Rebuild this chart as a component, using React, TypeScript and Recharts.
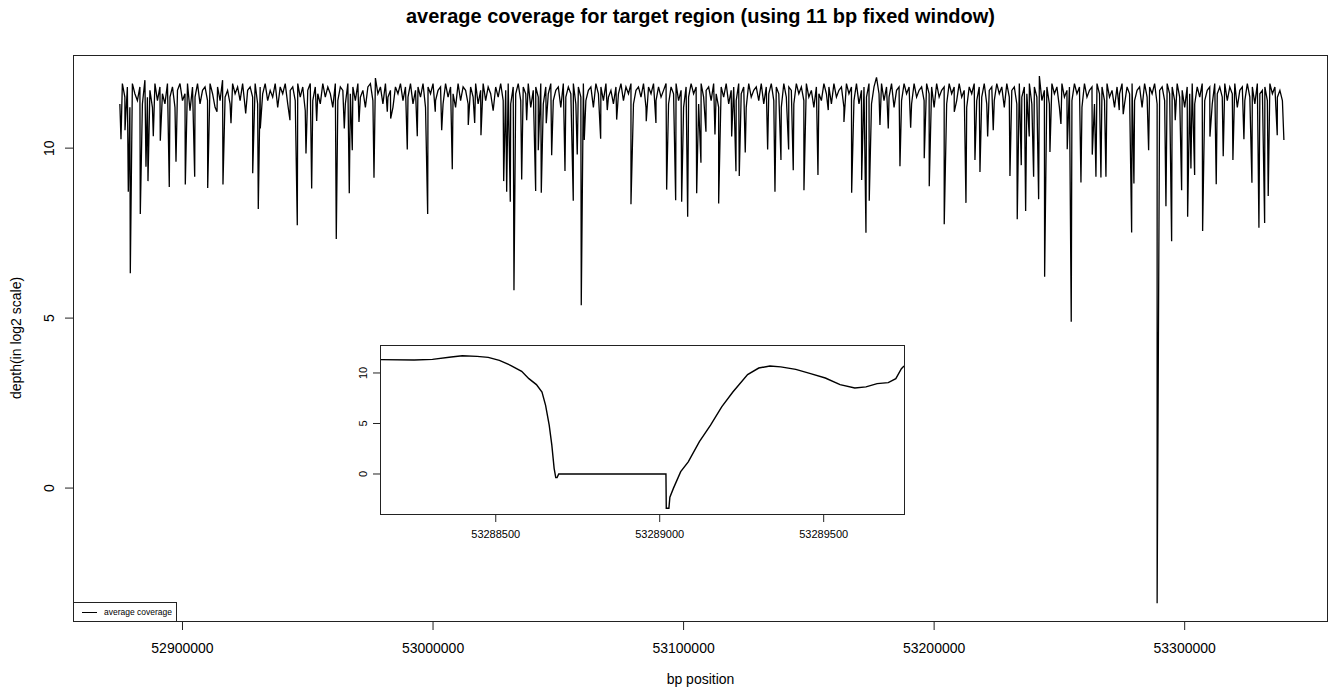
import { LineChart, Line, XAxis, YAxis, Legend } from "recharts";

const FONT = '"Liberation Sans", Arial, Helvetica, sans-serif';

// main series: depth on a 1 kb grid (the dense band), plus the dips
const START_BP = 52875000;
const STEP_BP = 1000;
const baselineDepth = [
  11.3, 11.9, 11.5, 11.8, 11.2, 11.9, 11.6, 11.4, 11.8, 11.3, 12.0, 11.5, 11.7, 11.2, 11.9, 11.4, 11.8, 11.6, 11.3, 11.9,
  11.5, 11.8, 11.2, 11.7, 11.9, 11.4, 11.6, 11.9, 11.1, 11.8, 11.5, 11.9, 11.3, 11.7, 11.8, 11.4, 11.9, 11.6, 11.2, 11.8,
  11.4, 12.0, 11.5, 11.7, 11.3, 11.9, 11.6, 11.8, 11.4, 11.9, 11.2, 11.7, 11.8, 11.5, 11.9, 11.3, 11.8, 11.6, 11.9, 11.4,
  11.7, 11.5, 11.9, 11.2, 11.8, 11.6, 11.9, 11.3, 11.7, 11.8, 11.4, 11.9, 11.5, 11.8, 11.1, 11.7, 11.9, 11.4, 11.8, 11.6,
  11.3, 11.9, 11.5, 11.8, 11.6, 11.2, 11.9, 11.4, 11.8, 11.7, 11.3, 11.9, 11.6, 11.8, 11.4, 11.9, 11.5, 11.7, 11.2, 11.8,
  11.9, 11.4, 12.06, 11.6, 11.8, 11.3, 11.9, 11.5, 11.7, 11.2, 11.8, 11.6, 11.9, 11.4, 11.8, 11.5, 11.9, 11.3, 11.7, 11.8,
  11.5, 11.9, 11.2, 11.8, 11.6, 11.9, 11.4, 11.7, 11.8, 11.3, 11.9, 11.5, 11.8, 11.6, 11.2, 11.9, 11.4, 11.8, 11.7, 11.3,
  11.8, 11.5, 11.9, 11.3, 11.7, 11.9, 11.4, 11.8, 11.6, 11.1, 11.8, 11.5, 11.9, 11.4, 11.7, 11.9, 11.3, 11.8, 11.6, 11.9,
  11.4, 11.8, 11.6, 11.9, 11.2, 11.7, 11.8, 11.5, 11.9, 11.3, 11.8, 11.6, 11.9, 11.4, 11.7, 11.8, 11.2, 11.9, 11.5, 11.8,
  11.6, 11.9, 11.3, 11.8, 11.5, 11.9, 11.4, 11.7, 11.8, 11.2, 11.9, 11.6, 11.8, 11.4, 11.9, 11.5, 11.7, 11.3, 11.8, 11.6,
  11.9, 11.4, 11.8, 11.6, 11.9, 11.3, 11.7, 11.8, 11.5, 11.9, 11.2, 11.8, 11.6, 11.9, 11.4, 11.8, 11.5, 11.7, 11.9, 11.3,
  11.8, 11.6, 11.9, 11.4, 11.7, 11.2, 11.8, 11.5, 11.9, 11.6, 11.8, 11.3, 11.9, 11.5, 11.7, 11.8, 11.4, 11.9, 11.6, 11.2,
  11.8, 11.5, 11.9, 11.3, 11.7, 11.8, 11.4, 11.9, 11.6, 11.8, 11.2, 11.9, 11.5, 11.7, 11.8, 11.4, 11.9, 11.3, 11.8, 11.6,
  11.9, 11.4, 11.8, 11.6, 11.2, 11.9, 11.5, 11.8, 11.7, 11.3, 11.9, 11.6, 11.8, 11.4, 11.9, 11.5, 11.7, 11.2, 11.8, 11.6,
  11.4, 11.9, 11.6, 11.8, 11.3, 11.9, 11.5, 11.7, 11.8, 11.2, 11.9, 11.6, 11.8, 11.4, 11.9, 11.3, 11.7, 11.8, 11.5, 11.9,
  11.3, 11.8, 12.08, 11.6, 11.9, 11.4, 11.8, 11.5, 11.9, 11.2, 11.7, 11.8, 11.4, 11.9, 11.6, 11.8, 11.3, 11.9, 11.5, 11.7,
  11.8, 11.4, 11.9, 11.6, 11.8, 11.2, 11.9, 11.5, 11.7, 11.8, 11.3, 11.9, 11.6, 11.8, 11.4, 11.9, 11.5, 11.7, 11.2, 11.8,
  11.6, 11.9, 11.4, 11.8, 11.5, 11.9, 11.3, 11.7, 11.8, 11.4, 11.9, 11.6, 11.8, 11.2, 11.9, 11.5, 11.7, 11.8, 11.3, 11.9,
  11.5, 11.8, 11.6, 11.9, 11.3, 11.8, 11.5, 12.12, 11.4, 11.7, 11.8, 11.3, 11.9, 11.6, 11.8, 11.2, 11.9, 11.5, 11.7, 11.8,
  11.4, 11.9, 11.6, 11.8, 11.2, 11.9, 11.5, 11.7, 11.8, 11.3, 11.9, 11.6, 11.8, 11.4, 11.9, 11.5, 11.7, 11.2, 11.8, 11.6,
  11.9, 11.3, 11.8, 11.6, 11.9, 11.4, 11.7, 11.8, 11.2, 11.9, 11.5, 11.8, 11.6, 11.9, 11.3, 11.7, 11.8, 11.4, 11.9, 11.6,
  11.8, 11.4, 11.9, 11.5, 11.7, 11.2, 11.8, 11.6, 11.9, 11.3, 11.8, 11.5, 11.9, 11.4, 11.7, 11.8, 11.3, 11.9, 11.6, 11.8,
  11.5, 11.9, 11.4, 11.8, 11.6, 11.9, 11.2, 11.7, 11.8, 11.4, 11.9, 11.5, 11.8, 11.3, 11.9, 11.6, 11.7, 11.8, 11.4, 11.9,
  11.6, 11.8, 11.5, 11.7, 11.4,
];

const dips: [number, number][] = [
  [52875455, 10.26], [52877050, 10.53], [52878370, 8.72], [52879170, 6.32], [52883160, 8.06],
  [52885430, 9.45], [52886230, 9.03], [52888350, 10.35], [52891140, 10.22], [52894730, 8.86],
  [52897410, 9.6], [52901120, 8.93], [52904870, 9.16], [52910060, 8.83], [52913770, 11.07],
  [52916160, 8.93], [52919360, 10.73], [52925220, 11.02], [52928020, 9.26], [52930250, 8.21],
  [52931050, 10.58], [52942900, 10.82], [52945820, 7.73], [52949290, 9.84], [52951560, 8.81],
  [52953560, 10.8], [52961380, 7.33], [52964580, 10.58], [52966570, 8.67], [52967770, 9.94],
  [52970440, 10.77], [52976430, 9.13], [52981740, 11.07], [52983090, 10.87], [52989720, 9.96],
  [52993710, 10.35], [52997860, 8.06], [53000890, 11.07], [53003450, 10.53], [53007680, 9.38],
  [53014060, 10.68], [53016620, 10.74], [53019130, 10.38], [53028190, 9.03], [53029390, 8.72],
  [53030830, 8.42], [53032300, 5.82], [53035380, 9.08], [53037370, 10.82], [53040960, 8.74],
  [53042000, 9.94], [53043200, 8.69], [53045190, 10.73], [53047350, 9.79], [53052660, 9.33],
  [53055970, 8.45], [53057560, 9.81], [53059160, 5.38], [53060360, 10.24], [53066900, 10.28],
  [53069540, 11.12], [53073290, 10.84], [53079000, 8.35], [53085100, 10.79], [53088970, 10.74],
  [53093240, 8.78], [53096840, 8.47], [53099230, 8.42], [53101630, 7.98], [53105220, 8.67],
  [53106930, 9.57], [53108930, 10.48], [53112520, 10.4], [53114000, 8.37], [53119190, 10.34],
  [53120900, 9.32], [53122220, 9.18], [53124610, 9.87], [53133550, 9.96], [53136470, 8.72],
  [53138860, 9.65], [53141930, 9.96], [53143770, 9.35], [53148040, 8.76], [53153630, 9.21],
  [53157740, 11.12], [53164000, 10.77], [53167080, 8.69], [53171070, 9.06], [53172790, 7.51],
  [53174100, 8.45], [53178370, 10.68], [53181690, 10.58], [53186360, 9.47], [53190630, 10.6],
  [53196050, 9.7], [53198050, 8.88], [53204030, 7.76], [53208030, 11.07], [53212700, 8.39],
  [53216290, 9.65], [53218290, 9.3], [53221360, 10.34], [53223590, 10.53], [53230260, 9.18],
  [53233170, 7.91], [53234770, 9.5], [53236520, 8.15], [53237960, 10.34], [53239710, 9.16],
  [53241710, 8.5], [53244100, 6.22], [53246220, 9.89], [53250610, 10.71], [53253120, 9.97],
  [53254720, 4.89], [53258600, 8.99], [53263110, 9.81], [53264580, 9.16], [53266570, 9.14],
  [53268570, 9.16], [53273880, 11.12], [53275470, 11.0], [53278830, 7.52], [53279740, 8.96],
  [53285610, 9.94], [53289000, -3.39], [53292520, 8.29], [53294790, 7.26], [53296230, 10.82],
  [53298780, 8.76], [53301180, 7.98], [53302490, 9.4], [53303970, 9.21], [53307160, 7.56],
  [53310080, 10.34], [53312590, 8.94], [53315380, 9.76], [53319250, 9.65], [53323640, 10.26],
  [53326840, 8.98], [53329630, 7.66], [53331910, 7.8], [53333340, 8.59], [53336940, 10.38],
  [53339600, 10.24],
];

// inset: zoom on the dropout around 53289000
const insetPositions = [
  53288147, 53288251, 53288307, 53288364, 53288398, 53288443, 53288477, 53288511, 53288545, 53288579,
  53288601, 53288624, 53288641, 53288652, 53288663, 53288671, 53288678, 53288683, 53288687, 53288692,
  53289019, 53289020, 53289028, 53289031, 53289042, 53289064, 53289087, 53289121, 53289155, 53289189,
  53289223, 53289268, 53289302, 53289336, 53289369, 53289415, 53289460, 53289505, 53289550, 53289595,
  53289629, 53289663, 53289697, 53289720, 53289737, 53289745,
];
const insetDepths = [
  11.32, 11.28, 11.35, 11.58, 11.71, 11.64, 11.55, 11.25, 10.76, 10.16,
  9.44, 8.85, 8.1, 6.8, 4.83, 2.86, 0.56, -0.36, -0.36, 0,
  0, -3.39, -3.39, -2.3, -1.4, 0.23, 1.2, 3.2, 4.84, 6.64,
  8.12, 9.84, 10.49, 10.69, 10.6, 10.36, 9.93, 9.5, 8.85, 8.52,
  8.62, 8.95, 9.05, 9.44, 10.43, 10.69,
];

const xTicks = [52900000, 53000000, 53100000, 53200000, 53300000];
const yTicks = [0, 5, 10];
const insetXTicks = [53288500, 53289000, 53289500];
const insetYTicks = [0, 5, 10];

const mainData = [
  ...baselineDepth.map((depth, i) => ({ bp: START_BP + i * STEP_BP, depth })),
  ...dips.map(([bp, depth]) => ({ bp, depth })),
].sort((a, b) => a.bp - b.bp);

const insetData = insetPositions.map((bp, i) => ({ bp, depth: insetDepths[i] }));

const makeXTick = (fontSize: number, dy: number) => (props: any) => {
  const { x, y, payload } = props;
  return (
    <text x={x} y={y + dy} textAnchor="middle" fontSize={fontSize} fontFamily={FONT} fill="#000">
      {payload.value}
    </text>
  );
};

const makeYTick = (fontSize: number, dx: number) => (props: any) => {
  const { x, y, payload } = props;
  const tx = x - dx;
  return (
    <text
      x={tx}
      y={y}
      transform={`rotate(-90, ${tx}, ${y})`}
      textAnchor="middle"
      fontSize={fontSize}
      fontFamily={FONT}
      fill="#000"
    >
      {payload.value}
    </text>
  );
};

const LegendBox = () => (
  <div
    style={{
      width: 104,
      height: 20,
      boxSizing: "border-box",
      border: "1px solid #222",
      background: "#fff",
      display: "flex",
      alignItems: "center",
      whiteSpace: "nowrap",
      fontFamily: FONT,
      fontSize: 8.5,
      color: "#000",
    }}
  >
    <span style={{ display: "inline-block", flex: "none", width: 15, height: 1, background: "#000", marginLeft: 8, marginRight: 7 }} />
    <span>average coverage</span>
  </div>
);

export default function App() {
  return (
    <div style={{ position: "absolute", left: 0, top: 0, width: 1331, height: 690, background: "#fff", fontFamily: FONT }}>
      <div
        style={{
          position: "absolute",
          left: 73,
          width: 1255,
          top: 5,
          textAlign: "center",
          fontWeight: "bold",
          fontSize: 20,
        }}
      >
        average coverage for target region (using 11 bp fixed window)
      </div>

      <LineChart width={1331} height={690} data={mainData} margin={{ top: 55, right: 3, left: 0, bottom: 0 }}>
        <XAxis
          dataKey="bp"
          type="number"
          domain={[52856300, 53357200]}
          ticks={xTicks}
          allowDataOverflow
          height={68}
          tickSize={8}
          tickMargin={2}
          axisLine={false}
          tickLine={{ stroke: "#222" }}
          tick={makeXTick(14, 21)}
        />
        <YAxis
          type="number"
          domain={[-3.94, 12.74]}
          ticks={yTicks}
          allowDataOverflow
          width={73}
          tickSize={8}
          tickMargin={2}
          axisLine={false}
          tickLine={{ stroke: "#222" }}
          tick={makeYTick(14, 9)}
        />
        <Legend
          verticalAlign="middle"
          layout="horizontal"
          content={() => <LegendBox />}
          wrapperStyle={{ left: 73, top: 602, width: 104, height: 20 }}
        />
        <Line
          dataKey="depth"
          type="linear"
          stroke="#000"
          strokeWidth={1.3}
          dot={false}
          isAnimationActive={false}
        />
      </LineChart>

      <div
        style={{
          position: "absolute",
          left: 73,
          top: 55,
          width: 1255,
          height: 567,
          boxSizing: "border-box",
          border: "1px solid #222",
          pointerEvents: "none",
        }}
      />

      <div
        style={{
          position: "absolute",
          left: 16,
          top: 338,
          transform: "translate(-50%, -50%) rotate(-90deg)",
          whiteSpace: "nowrap",
          fontSize: 14,
        }}
      >
        depth(in log2 scale)
      </div>
      <div style={{ position: "absolute", left: 73, width: 1255, top: 671, textAlign: "center", fontSize: 14 }}>
        bp position
      </div>

      <div style={{ position: "absolute", left: 340, top: 345, width: 570, height: 210 }}>
        <LineChart width={570} height={210} data={insetData} margin={{ top: 0, right: 5, left: 0, bottom: 0 }}>
          <XAxis
            dataKey="bp"
            type="number"
            domain={[53288147, 53289748]}
            ticks={insetXTicks}
            allowDataOverflow
            height={40}
            tickSize={7}
            tickMargin={2}
            axisLine={false}
            tickLine={{ stroke: "#222" }}
            tick={makeXTick(11, 13.5)}
          />
          <YAxis
            type="number"
            domain={[-4.06, 12.77]}
            ticks={insetYTicks}
            allowDataOverflow
            width={40}
            tickSize={7}
            tickMargin={2}
            axisLine={false}
            tickLine={{ stroke: "#222" }}
            tick={makeYTick(11, 4)}
          />
          <Line
            dataKey="depth"
            type="linear"
            stroke="#000"
            strokeWidth={1.4}
            dot={false}
            isAnimationActive={false}
          />
        </LineChart>
        <div
          style={{
            position: "absolute",
            left: 40,
            top: 0,
            width: 525,
            height: 170,
            boxSizing: "border-box",
            border: "1px solid #222",
            pointerEvents: "none",
          }}
        />
      </div>
    </div>
  );
}
